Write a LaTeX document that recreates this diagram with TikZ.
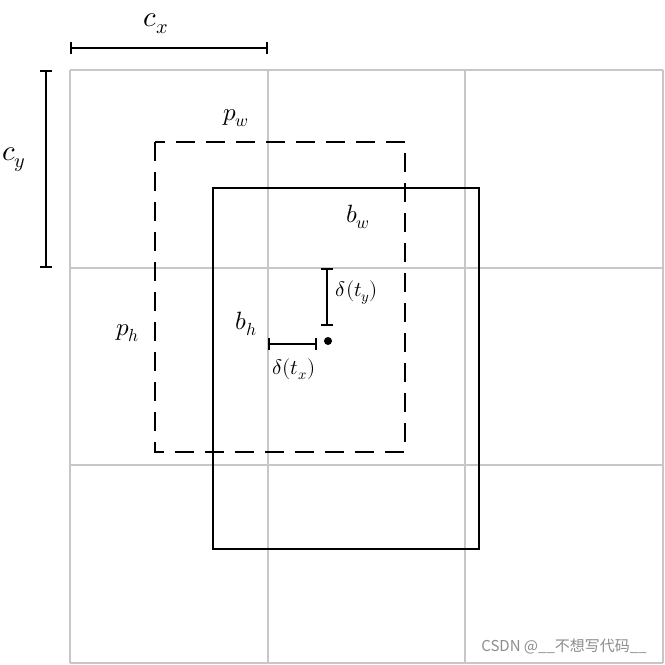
\documentclass[tikz,border=0pt]{standalone}
\usepackage{amsmath}
\usepackage{fontspec}
\usepackage{unicode-math}
\setmathfont{Latin Modern Math}
\newfontfamily\cjk{Noto Sans CJK SC}
\usetikzlibrary{arrows.meta}

\begin{document}
\begin{tikzpicture}[x=1pt, y=-1pt,
  gridline/.style={draw=black!22, line width=1.4pt},
  prior/.style={draw, line width=1.8pt, dash pattern=on 19pt off 11pt},
  pred/.style={draw, line width=1.8pt},
  span/.style={line width=1.8pt, {Bar[width=12pt]}-{Bar[width=12pt]}},
  lbl/.style={inner sep=0pt, font=\fontsize{29}{33}\selectfont},
  mid/.style={inner sep=0pt, font=\fontsize{25}{29}\selectfont},
  small/.style={inner sep=0pt, font=\fontsize{21}{25}\selectfont}]
  \useasboundingbox (0,0) rectangle (665,665);
  % cell grid
  \foreach \v in {70,268,465,663} {
    \draw[gridline] (\v,70) -- (\v,663);
    \draw[gridline] (70,\v) -- (663,\v);
  }
  % anchor box and predicted box
  \draw[prior] (155,142) rectangle (405,452);
  \draw[pred] (213,188) rectangle (479,549);
  % cell offsets
  \coordinate (cx0) at (70,48);
  \coordinate (cx1) at (268,48);
  \coordinate (cy0) at (46,70);
  \coordinate (cy1) at (46,268);
  \draw[span] (cx0) -- (cx1);
  \draw[span] (cy0) -- (cy1);
  \node[lbl] (cx) at (156,24) {$c_x$};
  \node[lbl] (cy) at (14,160) {$c_y$};
  % sizes
  \node[mid] (pw) at (236,118) {$p_w$};
  \node[mid] (ph) at (128,333) {$p_h$};
  \node[mid] (bw) at (358,217) {$b_w$};
  \node[mid] (bh) at (246,324) {$b_h$};
  % centre offsets
  \node[circle, fill, inner sep=0pt, minimum size=8pt] (ctr) at (328,341) {};
  \coordinate (ty0) at (327,268);
  \coordinate (ty1) at (327,326);
  \coordinate (tx0) at (268,344);
  \coordinate (tx1) at (317,344);
  \draw[span] (ty0) -- (ty1);
  \draw[span] (tx0) -- (tx1);
  \node[small] (ty) at (357,293) {$\delta(t_y)$};
  \node[small] (tx) at (294,369) {$\delta(t_x)$};
  \node[inner sep=0pt, text=black!45, font=\cjk\fontsize{15}{18}\selectfont] (mark) at (564,647) {CSDN @\_\_不想写代码\_\_};
\end{tikzpicture}
\end{document}
